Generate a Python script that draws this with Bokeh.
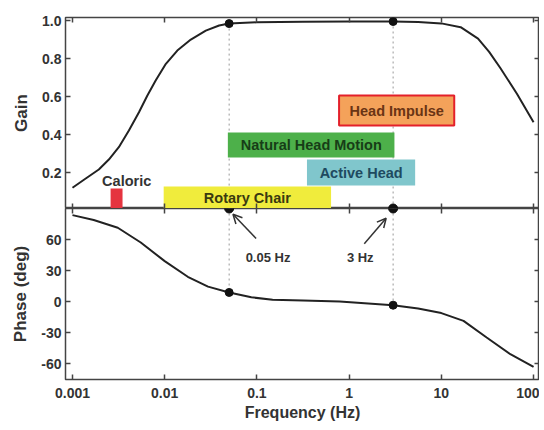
from bokeh.plotting import figure
from bokeh.layouts import column
from bokeh.models import (Range1d, LogAxis, LinearAxis, FixedTicker,
                          CustomJSTickFormatter, Arrow, OpenHead, ColumnDataSource)
from bokeh.core.properties import value
from bokeh.embed import file_html
from bokeh.resources import INLINE

# ---------------- data ----------------
x_ticks = [0.001, 0.01, 0.1, 1, 10, 100]
gain_ticks = [0.2, 0.4, 0.6, 0.8, 1.0]
phase_ticks = [-60, -30, 0, 30, 60]

gain_freq = [0.001, 0.00138, 0.00193, 0.00248, 0.00318, 0.00409, 0.00526, 0.00649,
             0.00798, 0.0103, 0.0137, 0.0192, 0.0279, 0.0389, 0.05, 0.1, 0.316, 1.0, 3.0,
             5.6, 10, 16.2, 25, 33, 43.6, 66, 100]
gain_vals = [0.12, 0.167, 0.216, 0.268, 0.333, 0.421, 0.517, 0.605,
             0.684, 0.772, 0.842, 0.90, 0.947, 0.974, 0.984, 0.991, 0.994, 0.995, 0.995,
             0.992, 0.985, 0.965, 0.905, 0.835, 0.75, 0.615, 0.465]

phase_freq = [0.001, 0.0017, 0.0031, 0.0055, 0.01, 0.0178, 0.0295, 0.05, 0.087,
              0.148, 0.316, 0.79, 3.0, 5.6, 10, 17.4, 31, 56, 100]
phase_vals = [83.6, 78.9, 71.4, 57.2, 39.2, 24.1, 14.6, 9.0, 4.3,
              1.9, 1.2, 0.3, -3.3, -6.5, -10.9, -18.4, -34.5, -50.6, -62.9]

marker_freq = [0.05, 3.0]
marker_gain = [0.984, 0.995]
marker_phase = [9.0, -3.3]

box_names = ["Caloric", "Rotary Chair", "Natural Head Motion", "Active Head", "Head Impulse"]
box_f_low = [0.00259, 0.00975, 0.0484, 0.349, 0.778]
box_f_high = [0.00349, 0.637, 3.1, 5.2, 13.8]
box_g_low = [0.0, 0.0, 0.279, 0.132, 0.447]
box_g_high = [0.116, 0.126, 0.41, 0.268, 0.605]
box_fill = ["#e5343f", "#f0ec3c", "#4db04a", "#80c6cc", "#f4a25a"]
box_line = ["#e5343f", "#f0ec3c", "#4db04a", "#80c6cc", "#e3202a"]
box_line_w = [0, 0, 0, 0, 2]
label_f = [0.00387, 0.0788, 0.389, 1.35, 3.28]
label_g = [0.153, 0.068, 0.345, 0.200, 0.526]
label_color = ["#333333", "#3a3a10", "#173d17", "#1e4a60", "#6a3414"]

arrow_tail_f = [0.098, 1.46]
arrow_tail_p = [61, 56]
arrow_tip_f = [0.055, 2.52]
arrow_tip_p = [84.4, 80.6]
arrow_text = ["0.05 Hz", "3 Hz"]
arrow_text_f = [0.132, 1.32]
arrow_text_p = [43, 43]

FONT = "Liberation Sans"
FRAME = "#444444"

x_range = Range1d(0.00084, 116)
gain_range = Range1d(0.0105, 1.016)
phase_range = Range1d(-75, 90)


def style_axis(ax, ticks, fmt=None, labels=True):
    ax.ticker = FixedTicker(ticks=ticks)
    ax.major_tick_in = 5
    ax.major_tick_out = 0
    ax.minor_tick_line_color = None
    ax.axis_line_color = None
    ax.major_tick_line_color = FRAME
    ax.major_tick_line_width = 1.5
    if labels:
        ax.formatter = CustomJSTickFormatter(code=fmt)
        ax.major_label_text_font = FONT
        ax.major_label_text_font_style = "bold"
        ax.major_label_text_font_size = "14px"
        ax.major_label_text_color = "#333333"
    else:
        ax.major_label_text_font_size = "1px"
        ax.major_label_text_alpha = 0
        ax.major_label_standoff = 0


def style_label(ax, text, size, standoff):
    ax.axis_label = text
    ax.axis_label_text_font = FONT
    ax.axis_label_text_font_style = "bold"
    ax.axis_label_text_font_size = size
    ax.axis_label_text_color = "#333333"
    ax.axis_label_standoff = standoff


def base_fig(height, y_range, top_border):
    p = figure(x_axis_type="log", x_range=x_range, y_range=y_range,
               width=539, height=height, output_backend="svg", toolbar_location=None,
               min_border_left=65, min_border_right=0, min_border_top=top_border,
               min_border_bottom=0)
    p.grid.visible = False
    p.outline_line_color = FRAME
    p.outline_line_width = 1.5
    p.background_fill_color = "white"
    p.border_fill_color = "white"
    return p


# ---------------- top: gain ----------------
top = base_fig(208, gain_range, 17)
style_axis(top.below[0], x_ticks, labels=False)
style_axis(top.left[0], gain_ticks, "return tick.toFixed(1);")
top.left[0].major_label_standoff = 4
style_label(top.left[0], "Gain", "17px", 8)
top.add_layout(LogAxis(), "above")
style_axis(top.above[0], x_ticks, labels=False)
top.add_layout(LinearAxis(), "right")
style_axis(top.right[0], gain_ticks, labels=False)

top.segment(x0=marker_freq, y0=marker_gain, x1=marker_freq,
            y1=[gain_range.start] * len(marker_freq),
            line_color="#999999", line_dash="2 3", line_width=1)
top.line(gain_freq, gain_vals, line_color="#222222", line_width=2)
top.scatter(marker_freq, marker_gain, size=8, color="#111111")
top.scatter(marker_freq, [gain_range.start] * len(marker_freq), size=9, color="#111111")

boxes = ColumnDataSource(dict(name=box_names, left=box_f_low, right=box_f_high,
                              bottom=box_g_low, top=box_g_high, fill=box_fill,
                              line=box_line, lw=box_line_w, lf=label_f, lg=label_g,
                              tc=label_color))
top.quad(left="left", right="right", bottom="bottom", top="top", source=boxes,
         fill_color="fill", line_color="line", line_width="lw")
top.text(x="lf", y="lg", text="name", source=boxes, text_color="tc",
         text_align="center", text_baseline="middle",
         text_font=value(FONT), text_font_style="bold", text_font_size="14.5px")

# ---------------- bottom: phase ----------------
bot = base_fig(215, phase_range, 0)
style_axis(bot.below[0], x_ticks, "return tick.toString();")
bot.below[0].major_label_standoff = 8
style_label(bot.below[0], "Frequency (Hz)", "16px", 3)
style_axis(bot.left[0], phase_ticks, "return tick.toFixed(0);")
bot.left[0].major_label_standoff = 4
style_label(bot.left[0], "Phase (deg)", "17px", 8)
bot.add_layout(LogAxis(), "above")
style_axis(bot.above[0], x_ticks, labels=False)
bot.add_layout(LinearAxis(), "right")
style_axis(bot.right[0], phase_ticks, labels=False)

bot.segment(x0=marker_freq, y0=[phase_range.end] * len(marker_freq), x1=marker_freq,
            y1=marker_phase, line_color="#999999", line_dash="2 3", line_width=1)
bot.line(phase_freq, phase_vals, line_color="#222222", line_width=2)
bot.scatter(marker_freq, marker_phase, size=8, color="#111111")
bot.scatter(marker_freq, [phase_range.end] * len(marker_freq), size=9, color="#111111")

arrows = ColumnDataSource(dict(x0=arrow_tail_f, y0=arrow_tail_p, x1=arrow_tip_f, y1=arrow_tip_p))
bot.add_layout(Arrow(end=OpenHead(size=9, line_width=1.5, line_color="#333333"),
                     x_start="x0", y_start="y0", x_end="x1", y_end="y1",
                     line_color="#333333", line_width=1.5, source=arrows))
bot.text(x=arrow_text_f, y=arrow_text_p, text=arrow_text, text_color="#333333",
         text_align="center", text_baseline="middle",
         text_font=value(FONT), text_font_style="bold", text_font_size="13px")

layout = column(top, bot, spacing=0)
open("out.html", "w").write(file_html(layout, INLINE))
